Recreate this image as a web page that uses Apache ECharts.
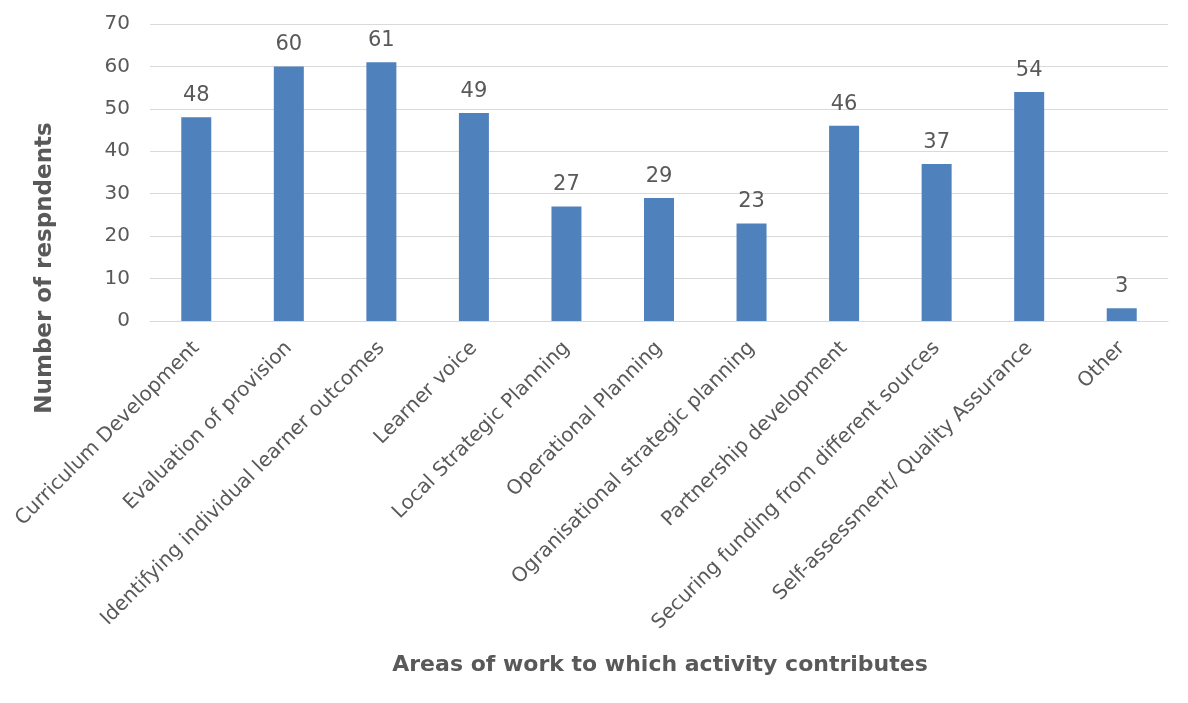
<!DOCTYPE html>
<html><head><meta charset="utf-8">
<script src="https://cdn.jsdelivr.net/npm/echarts@6/dist/echarts.min.js"></script>
<style>html,body{margin:0;padding:0;background:#fff}#c{width:1188px;height:703px}</style>
</head><body><div id="c"></div>
<script>
const categories = ["Curriculum Development","Evaluation of provision","Identifying individual learner outcomes","Learner voice","Local Strategic Planning","Operational Planning","Ogranisational strategic planning","Partnership development","Securing funding from different sources","Self-assessment/ Quality Assurance","Other"];
const values = [48,60,61,49,27,29,23,46,37,54,3];
const yTitle = "Number of respndents";
const xTitle = "Areas of work to which activity contributes";
const font = "DejaVu Sans";
const txt = "#595959";
const chart = echarts.init(document.getElementById('c'));
chart.setOption({
  animation:false,
  grid:{left:150,right:20,top:24,bottom:382},
  xAxis:{type:'category',data:categories,
    axisLine:{lineStyle:{color:'#d9d9d9',width:1}},axisTick:{show:false},
    axisLabel:{rotate:45,interval:0,margin:24,color:txt,fontFamily:font,fontSize:20}},
  yAxis:{type:'value',min:0,max:70,interval:10,
    axisLine:{show:false},axisTick:{show:false},
    splitLine:{lineStyle:{color:'#d9d9d9',width:1}},
    axisLabel:{margin:20,color:txt,fontFamily:font,fontSize:20}},
  series:[{type:'bar',data:values,barWidth:30,itemStyle:{color:'#4f81bd'},
    label:{show:true,position:'top',distance:11,color:txt,fontFamily:font,fontSize:21}}],
  graphic:[
    {type:'text',x:660,y:665,style:{text:xTitle,fill:txt,font:"bold 22px 'DejaVu Sans'",align:'center',verticalAlign:'middle'}},
    {type:'text',x:45,y:268,rotation:Math.PI/2,style:{text:yTitle,fill:txt,font:"bold 23px 'DejaVu Sans'",align:'center',verticalAlign:'middle'}}
  ]
});
</script></body></html>
